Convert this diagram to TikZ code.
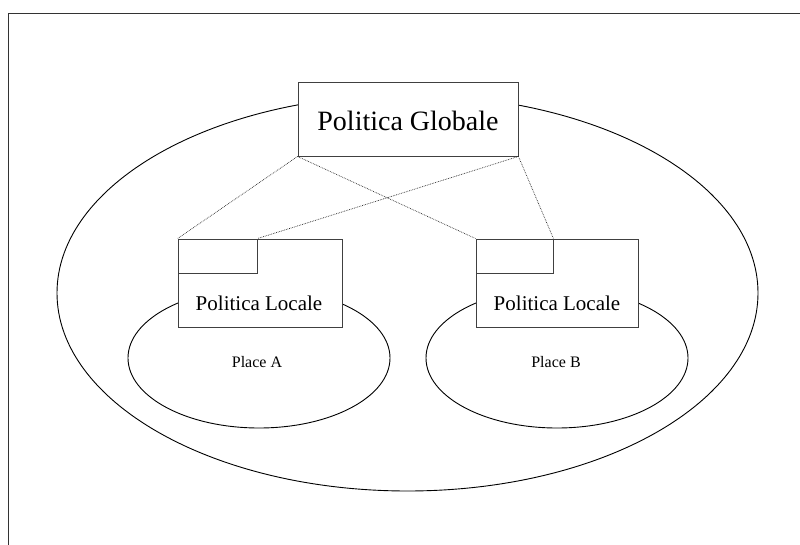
\documentclass[tikz,border=0pt]{standalone}
\usepackage{fontspec}
\setmainfont{Liberation Serif}
\usetikzlibrary{shapes.geometric}
\tikzset{
  frameline/.style={line width=1.5pt, draw=black!80},
  oval/.style={ellipse, draw=black, line width=0.9pt, inner sep=0pt},
  box/.style={rectangle, draw=black!75, line width=0.9pt, fill=white, inner sep=0pt},
  tab/.style={rectangle, draw=black!75, line width=0.9pt, fill=white, inner sep=0pt,
              minimum width=79pt, minimum height=34pt, anchor=north west},
  link/.style={draw=black!85, densely dotted, line width=0.7pt},
  lbl/.style={inner sep=0pt, font=\fontsize{21}{24}\selectfont},
  plbl/.style={inner sep=0pt, font=\fontsize{16}{19}\selectfont}
}
\begin{document}
\begin{tikzpicture}[x=1pt,y=-1pt]
  \useasboundingbox (0,0) rectangle (800,545);
  % page frame (left and top edges)
  \coordinate (fb) at (8.5,545);
  \coordinate (fc) at (8.5,13.5);
  \coordinate (fr) at (800,13.5);
  \draw[frameline] (fb) -- (fc) -- (fr);

  % domains
  \node[oval, minimum width=701pt, minimum height=396pt] (world) at (407.5,293) {};
  \node[oval, minimum width=262pt, minimum height=140pt] (placeA) at (259,358) {};
  \node[oval, minimum width=262pt, minimum height=140pt] (placeB) at (557,358) {};
  \node[plbl] (ptA) at (257,362) {Place A};
  \node[plbl] (ptB) at (556,362) {Place B};

  % policies
  \node[box, minimum width=220pt, minimum height=74pt] (glob) at (408,119) {};
  \node[inner sep=0pt, font=\fontsize{28}{32}\selectfont] (globt) at (408,121) {Politica Globale};

  \node[box, minimum width=164pt, minimum height=88pt] (locA) at (260,283) {};
  \node[box, minimum width=162pt, minimum height=88pt] (locB) at (557,283) {};
  \node[tab] (tabA) at (locA.north west) {};
  \node[tab, minimum width=77pt] (tabB) at (locB.north west) {};
  \node[lbl] (ltA) at (259,303) {Politica Locale};
  \node[lbl] (ltB) at (557,303) {Politica Locale};

  % links between global and local policies
  \draw[link] (glob.south west) -- (tabA.north west);
  \draw[link] (glob.south west) -- (locB.north west);
  \draw[link] (glob.south east) -- (tabA.north east);
  \draw[link] (glob.south east) -- (tabB.north east);
\end{tikzpicture}
\end{document}
